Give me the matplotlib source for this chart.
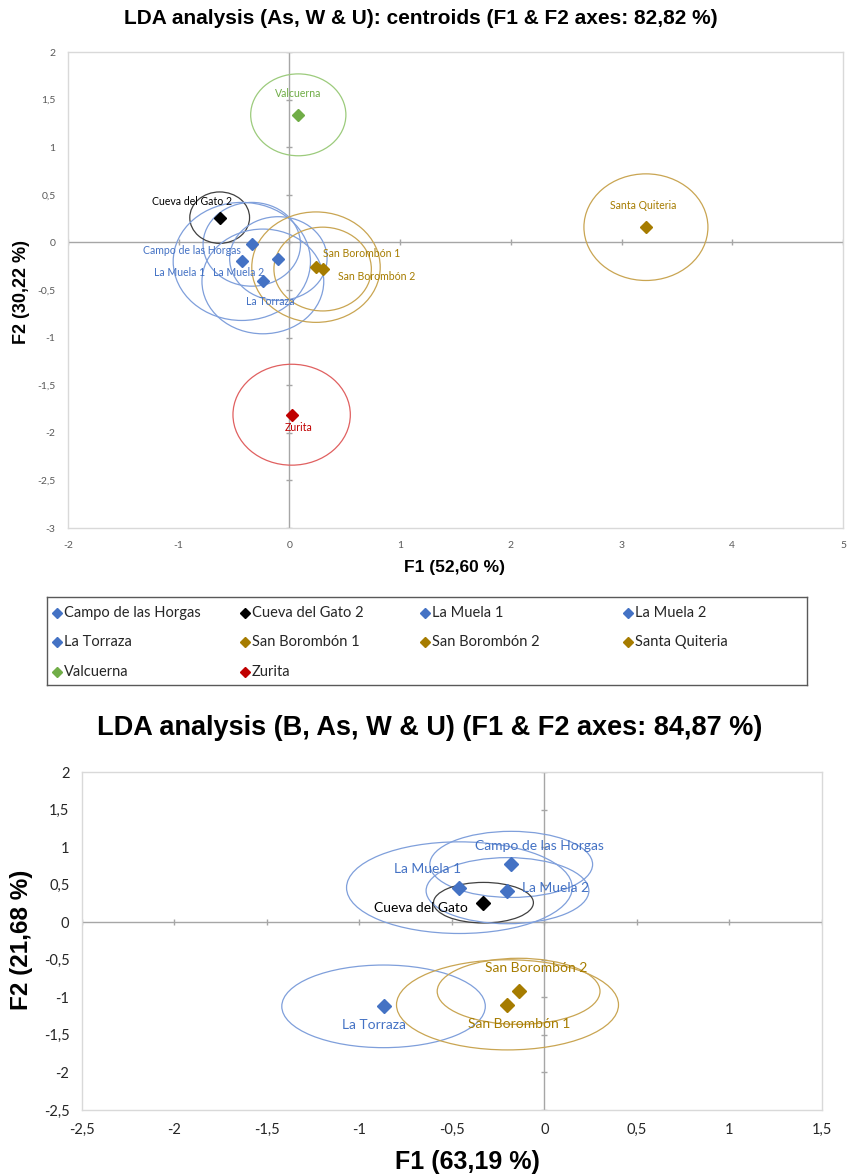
import numpy as np
import matplotlib
matplotlib.use('Agg')
import matplotlib.pyplot as plt
from matplotlib.patches import Ellipse
from matplotlib.ticker import FuncFormatter

# --- Gráfico 1: centroides LDA (As, W & U) ---
SITES1 = ['Campo de las Horgas', 'Cueva del Gato 2', 'La Muela 1', 'La Muela 2',
          'La Torraza', 'San Borombón 1', 'San Borombón 2', 'Santa Quiteria',
          'Valcuerna', 'Zurita']
F1_1 = [-0.34, -0.63, -0.43, -0.10, -0.24, 0.24, 0.30, 3.22, 0.08, 0.02]
F2_1 = [-0.02, 0.26, -0.20, -0.17, -0.41, -0.26, -0.28, 0.16, 1.34, -1.81]
R_1 = [0.44, 0.27, 0.62, 0.44, 0.55, 0.58, 0.44, 0.56, 0.43, 0.53]
GROUP1 = ['blue', 'black', 'blue', 'blue', 'blue', 'gold', 'gold', 'gold', 'green', 'red']

# --- Gráfico 2: LDA (B, As, W & U) ---
SITES2 = ['Campo de las Horgas', 'Cueva del Gato', 'La Muela 1', 'La Muela 2',
          'La Torraza', 'San Borombón 1', 'San Borombón 2']
F1_2 = [-0.18, -0.33, -0.46, -0.20, -0.87, -0.20, -0.14]
F2_2 = [0.77, 0.26, 0.46, 0.42, -1.12, -1.10, -0.92]
R_2 = [0.44, 0.27, 0.61, 0.44, 0.55, 0.60, 0.44]
GROUP2 = ['blue', 'black', 'blue', 'blue', 'blue', 'gold', 'gold']

MARK = {'blue': '#4472C4', 'black': '#000000', 'gold': '#A67C00',
        'green': '#70AD47', 'red': '#C00000'}
RING = {'blue': '#7F9FDB', 'black': '#404040', 'gold': '#C9A552',
        'green': '#9CCB7C', 'red': '#E06060'}
TXT = {'blue': '#4472C4', 'black': '#000000', 'gold': '#A67C00',
       'green': '#70AD47', 'red': '#C00000'}

# desplazamiento de etiquetas (px) y alineación
OFF1 = [(-60, -6, 'center'), (-28, 16, 'center'), (-62, -11, 'center'), (-40, -14, 'center'),
        (7, -20, 'center'), (7, 14, 'left'), (15, -7, 'left'), (-3, 22, 'center'),
        (0, 21, 'center'), (-7, -13, 'left')]
OFF2 = [(28, 18, 'center'), (-63, -5, 'center'), (-32, 19, 'center'), (15, 3, 'left'),
        (-10, -19, 'center'), (12, -19, 'center'), (18, 23, 'center')]

plt.rcParams['font.family'] = ['Lato', 'DejaVu Sans']
AXGRAY = '#A6A6A6'
FRAME = '#D9D9D9'

comma = FuncFormatter(lambda v, p: f'{v:g}'.replace('.', ','))

fig = plt.figure(figsize=(8.53, 11.76), dpi=100)


def draw(ax, f1, f2, rr, grp, names, offs, fs_lab, ms, xt, yt, tick_fs, tick_col):
    ax.axhline(0, color=AXGRAY, lw=1, zorder=1)
    ax.axvline(0, color=AXGRAY, lw=1, zorder=1)
    ax.plot(np.zeros(len(yt)), yt, ls='none', marker='_', ms=5, mew=1, color=AXGRAY, zorder=1)
    ax.plot(xt, np.zeros(len(xt)), ls='none', marker='|', ms=5, mew=1, color=AXGRAY, zorder=1)
    for x, y, r, g, n, (dx, dy, ha) in zip(f1, f2, rr, grp, names, offs):
        ax.add_patch(Ellipse((x, y), 2 * r, 2 * r, fill=False, ec=RING[g], lw=0.9, zorder=2))
        ax.plot(x, y, marker='D', ms=ms, color=MARK[g], ls='none', zorder=3)
        ax.annotate(n, (x, y), xytext=(dx, dy), textcoords='offset pixels',
                    ha=ha, va='center', fontsize=fs_lab, color=TXT[g], zorder=4)
    ax.set_xticks(xt)
    ax.set_yticks(yt)
    ax.xaxis.set_major_formatter(comma)
    ax.yaxis.set_major_formatter(comma)
    ax.tick_params(length=0, pad=9, labelsize=tick_fs, colors=tick_col)
    for s in ax.spines.values():
        s.set_color(FRAME)
        s.set_linewidth(1)


# gráfico superior
ax1 = fig.add_axes([68 / 853, 1 - 528 / 1176, 775 / 853, 476 / 1176])
ax1.set_xlim(-2, 5)
ax1.set_ylim(-3, 2)
draw(ax1, F1_1, F2_1, R_1, GROUP1, SITES1, OFF1, 7.6, 6,
     np.arange(-2, 6, 1), np.arange(-3, 2.01, 0.5), 7.5, '#595959')
fig.text(0.493, 1 - 19 / 1176, 'LDA analysis (As, W & U): centroids (F1 & F2 axes: 82,82 %)',
         ha='center', va='center', fontsize=15, fontweight='bold', family='Liberation Sans')
fig.text(455 / 853, 1 - 567 / 1176, 'F1 (52,60 %)', ha='center', va='center',
         fontsize=12.5, fontweight='bold', family='Liberation Sans')
fig.text(22 / 853, 1 - 292 / 1176, 'F2 (30,22 %)', ha='center', va='center', rotation=90,
         fontsize=13, fontweight='bold', family='Liberation Sans')

# leyenda
axl = fig.add_axes([47 / 853, 1 - 685 / 1176, 760 / 853, 88 / 1176])
axl.set_xlim(0, 760)
axl.set_ylim(88, 0)
axl.set_xticks([])
axl.set_yticks([])
for s in axl.spines.values():
    s.set_color('#595959')
    s.set_linewidth(1)
col_x = [10, 198, 378, 581]
row_y = [16, 45, 75]
for i, (n, g) in enumerate(zip(SITES1, GROUP1)):
    cx, ry = col_x[i % 4], row_y[i // 4]
    axl.plot(cx, ry, marker='D', ms=5, color=MARK[g], ls='none')
    axl.text(cx + 7, ry, n, ha='left', va='center', fontsize=10.5, color='#262626')

# gráfico inferior
ax2 = fig.add_axes([82 / 853, 1 - 1110 / 1176, 740 / 853, 338 / 1176])
ax2.set_xlim(-2.5, 1.5)
ax2.set_ylim(-2.5, 2)
draw(ax2, F1_2, F2_2, R_2, GROUP2, SITES2, OFF2, 10, 7.5,
     np.arange(-2.5, 1.51, 0.5), np.arange(-2.5, 2.01, 0.5), 10.5, '#262626')
fig.text(0.504, 1 - 728 / 1176, 'LDA analysis (B, As, W & U) (F1 & F2 axes: 84,87 %)',
         ha='center', va='center', fontsize=19.5, fontweight='bold', family='Liberation Sans')
fig.text(467 / 853, 1 - 1162 / 1176, 'F1 (63,19 %)', ha='center', va='center',
         fontsize=18, fontweight='bold', family='Liberation Sans')
fig.text(22 / 853, 1 - 940 / 1176, 'F2 (21,68 %)', ha='center', va='center', rotation=90,
         fontsize=17.5, fontweight='bold', family='Liberation Sans')

fig.savefig('out.png', dpi=100)
